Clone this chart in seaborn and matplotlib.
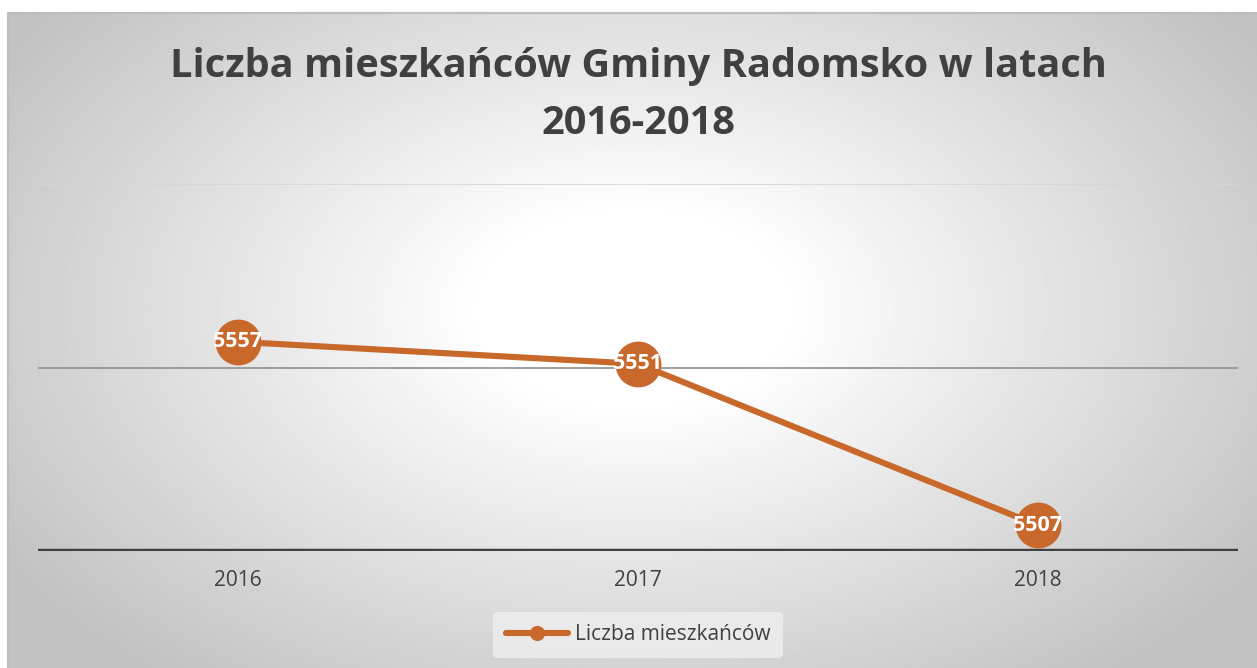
import numpy as np
import pandas as pd
import matplotlib
matplotlib.use("Agg")
import matplotlib.pyplot as plt
import seaborn as sns

# data
years = ["2016", "2017", "2018"]
residents = [5557, 5551, 5507]
series_name = "Liczba mieszkańców"
title = "Liczba mieszkańców Gminy Radomsko w latach\n2016-2018"
y_ticks = [5500, 5550, 5600]

sns.set_style("white")
plt.rcParams["font.family"] = ["Open Sans", "DejaVu Sans"]

W, H = 1257, 668
fig = plt.figure(figsize=(W / 100, H / 100), dpi=100)
fig.patch.set_facecolor("white")

# radial gradient background of the chart area
bg = fig.add_axes([8 / W, 0, 1 - 8 / W, 1 - 13 / H])
bg.set_axis_off()
ny, nx = 300, 560
yy, xx = np.mgrid[0:ny, 0:nx]
cx, cy = nx * 0.5, ny * 0.45
d = np.sqrt(((xx - cx) / (nx * 0.6)) ** 2 + ((yy - cy) / (ny * 0.72)) ** 2)
t = np.clip((d - 0.2) / 0.8, 0, 1)
shade = 1.0 - 0.24 * t
bg.imshow(shade, cmap="gray", vmin=0, vmax=1, aspect="auto",
          extent=[0, 1, 0, 1], interpolation="bilinear")
bg.set_xlim(0, 1)
bg.set_ylim(0, 1)
bg.plot([0, 0, 1], [0, 1, 1], color="#bdbdbd", linewidth=1.5,
        transform=bg.transAxes, clip_on=False)

ax = fig.add_axes([38 / W, 1 - 551 / H, 1200 / W, (551 - 184) / H])
ax.set_facecolor("none")

df = pd.DataFrame({"Rok": years, series_name: residents})
color = "#C8682A"
sns.lineplot(data=df, x="Rok", y=series_name, ax=ax, color=color,
             linewidth=4.4, marker="o", markersize=33, markeredgewidth=0,
             label=series_name, sort=False)

for i, v in enumerate(residents):
    ax.text(i, v, str(v), ha="center", va="center", color="white",
            fontsize=15.5, fontweight="bold", zorder=5)

ax.set_xlim(-0.5, 2.5)
ax.set_ylim(y_ticks[0], y_ticks[-1])
ax.set_yticks(y_ticks)
ax.set_yticklabels([])
ax.tick_params(axis="y", length=0)
ax.tick_params(axis="x", length=0, labelsize=15, labelcolor="#404040", pad=14)
ax.set_xlabel("")
ax.set_ylabel("")
for s in ax.spines.values():
    s.set_visible(False)

# horizontal grid lines with distinct styles
grid_styles = {5600: ("#d6d6d6", 1.2), 5550: ("#8f8f8f", 1.2), 5500: ("#404040", 3.2)}
for yv in y_ticks:
    c, lw = grid_styles[yv]
    ax.axhline(yv, color=c, linewidth=lw, zorder=0)

fig.suptitle(title, x=0.5 + 10 / W, y=1 - 47 / H, va="top", fontsize=28.6,
             fontweight="bold", color="#404040", linespacing=1.6)

leg = ax.legend(loc="center", bbox_to_anchor=(0.5, 1 - (635 - 184) / (551 - 184)),
                frameon=True, fontsize=15, handlelength=3.0, markerscale=0.33,
                borderpad=0.6, handletextpad=0.3)
leg.get_frame().set_facecolor("#efefef")
leg.get_frame().set_edgecolor("none")
leg.get_frame().set_alpha(0.8)
for txt in leg.get_texts():
    txt.set_color("#404040")

fig.savefig("out.png", dpi=100)
